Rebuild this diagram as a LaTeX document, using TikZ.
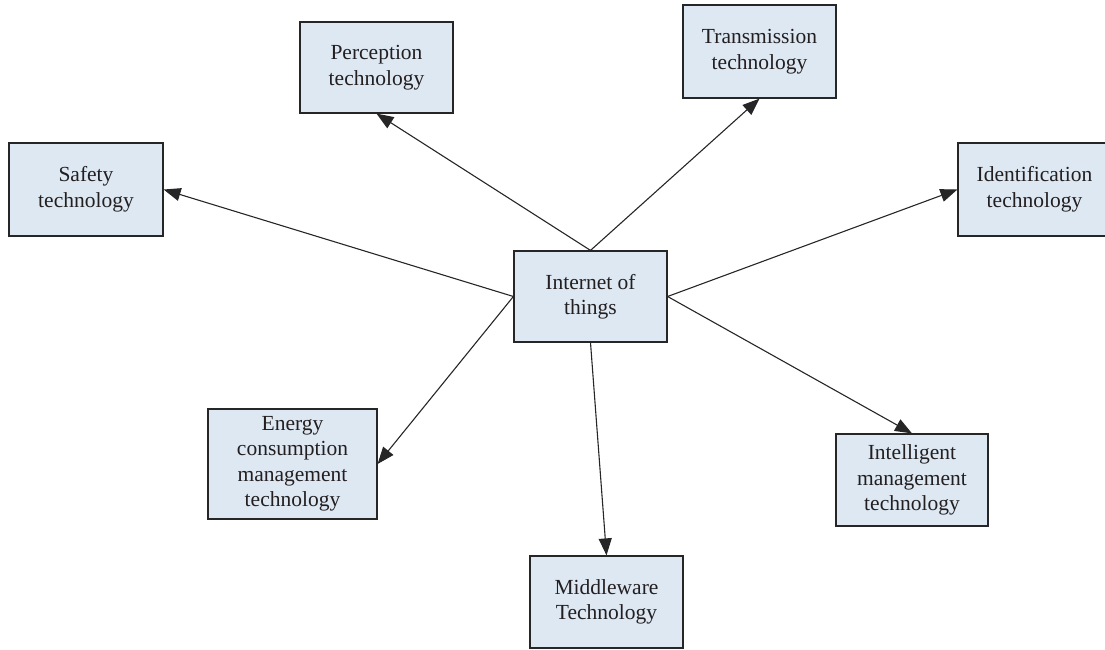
\documentclass[tikz,border=0pt]{standalone}
\usepackage{fontspec}
\setmainfont{Liberation Serif}
\usetikzlibrary{arrows.meta}
\definecolor{boxfill}{HTML}{DDE8F3}
\definecolor{boxline}{HTML}{262626}
\definecolor{txt}{HTML}{231F20}
\tikzset{
  techbox/.style={draw=boxline, fill=boxfill, line width=1.2pt, inner sep=0pt,
    align=center, text=txt, font=\fontsize{21.5}{25.5}\selectfont},
  conn/.style={draw=boxline, line width=1.1pt, -{Triangle[length=17pt,width=13pt]}}
}
\begin{document}
\begin{tikzpicture}[x=1pt,y=-1pt]
\useasboundingbox (0,0) rectangle (1105,650);
\node[techbox, minimum width=153pt, minimum height=91pt] (perc) at (376.5,67.5) {Perception\\technology};
\node[techbox, minimum width=153pt, minimum height=93pt] (trans) at (759.5,51.5) {Transmission\\technology};
\node[techbox, minimum width=154pt, minimum height=93pt] (safe) at (86,189.5) {Safety\\technology};
\node[techbox, minimum width=153pt, minimum height=93pt] (ident) at (1034.5,189.5) {Identification\\technology};
\node[techbox, minimum width=153pt, minimum height=91pt] (iot) at (590.5,296.5) {Internet of\\things};
\node[techbox, minimum width=169pt, minimum height=110pt] (energy) at (292.5,464) {Energy\\consumption\\management\\technology};
\node[techbox, minimum width=152pt, minimum height=92pt] (intel) at (912,480) {Intelligent\\management\\technology};
\node[techbox, minimum width=153pt, minimum height=92pt] (mid) at (606.5,602) {Middleware\\Technology};
\draw[conn] (iot.north) -- (perc.south);
\draw[conn] (iot.north) -- (trans.south);
\draw[conn] (iot.west) -- (safe.east);
\draw[conn] (iot.west) -- (energy.east);
\draw[conn] (iot.east) -- (ident.west);
\draw[conn] (iot.east) -- (intel.north);
\draw[conn] (iot.south) -- (mid.north);
\end{tikzpicture}
\end{document}
